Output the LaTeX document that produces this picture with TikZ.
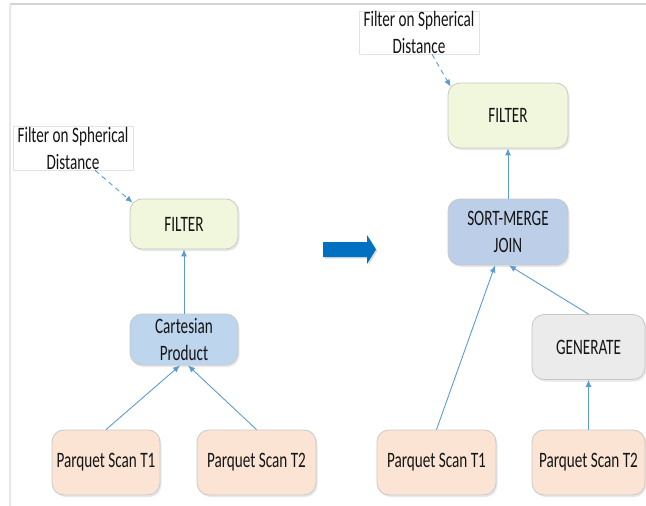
\documentclass[tikz,border=0pt]{standalone}
\usepackage{fontspec}
\setmainfont{Carlito}[FakeStretch=0.69]
\usetikzlibrary{arrows.meta,shadows}
\definecolor{edgeblue}{RGB}{91,155,213}
\definecolor{bigblue}{RGB}{0,112,192}
\definecolor{filtfill}{RGB}{240,247,220}
\definecolor{cpfill}{RGB}{189,213,237}
\definecolor{smjfill}{RGB}{189,207,232}
\definecolor{genfill}{RGB}{235,235,235}
\definecolor{pqfill}{RGB}{251,228,212}
\definecolor{boxline}{RGB}{200,200,200}
\definecolor{lablinec}{RGB}{222,228,238}
\definecolor{txt}{RGB}{20,20,20}
\tikzset{
  opbox/.style={draw=boxline, line width=0.8pt, rounded corners=12pt, align=center,
    font=\fontsize{22}{27}\selectfont, text=txt,
    drop shadow={opacity=0.18, shadow xshift=1.5pt, shadow yshift=-2pt}},
  labbox/.style={draw=lablinec, line width=0.6pt, align=center, fill=white, text=txt,
    font=\fontsize{22}{27}\selectfont, inner sep=0pt},
  conn/.style={draw=edgeblue, line width=0.9pt, -{Latex[length=7pt,width=6pt]}},
  dconn/.style={conn, dash pattern=on 5pt off 4pt}
}
\begin{document}
\begin{tikzpicture}[x=1pt,y=-1pt]
\useasboundingbox (0,0) rectangle (646,506);
% frame lines
\draw[draw={rgb,255:red,212;green,212;blue,212}, line width=1.5pt] (10,4) -- (646,4);
\draw[draw={rgb,255:red,232;green,232;blue,232}, line width=2pt] (10,4) -- (10,506);

% left side
\node[labbox, minimum width=120pt, minimum height=44pt] (llab) at (73,148) {Filter on Spherical\\Distance};
\node[opbox, fill=filtfill, minimum width=108pt, minimum height=50pt] (lfilter) at (184,224) {FILTER};
\node[opbox, fill=cpfill, minimum width=108pt, minimum height=51pt] (cp) at (184,339.5) {Cartesian\\Product};
\node[opbox, fill=pqfill, minimum width=108pt, minimum height=65pt] (lt1) at (106,462.5) {Parquet Scan T1};
\node[opbox, fill=pqfill, minimum width=119pt, minimum height=65pt] (lt2) at (256.5,462.5) {Parquet Scan T2};

\draw[dconn] ([xshift=22pt]llab.south) -- ([xshift=3pt,yshift=-4pt]lfilter.north west);
\draw[conn] (cp.north) -- (lfilter.south);
\draw[conn] (lt1.north) -- ([xshift=-4pt]cp.south);
\draw[conn] (lt2.north) -- ([xshift=4pt]cp.south);

% big arrow
\fill[bigblue, drop shadow={opacity=0.25, shadow xshift=1.5pt, shadow yshift=-1.5pt}]
  (323,242) -- (367,242) -- (367,235) -- (376,249.5) -- (367,264) -- (367,257) -- (323,257) -- cycle;

% right side
\node[labbox, minimum width=120pt, minimum height=43pt] (rlab) at (419,32.5) {Filter on Spherical\\Distance};
\node[opbox, fill=filtfill, minimum width=120pt, minimum height=65pt] (rfilter) at (508,115.5) {FILTER};
\node[opbox, fill=smjfill, minimum width=120pt, minimum height=66pt] (smj) at (508,232) {SORT-MERGE\\JOIN};
\node[opbox, fill=genfill, minimum width=113pt, minimum height=65pt] (gen) at (588.5,347) {GENERATE};
\node[opbox, fill=pqfill, minimum width=119pt, minimum height=65pt] (rt1) at (436.5,462.5) {Parquet Scan T1};
\node[opbox, fill=pqfill, minimum width=113pt, minimum height=65pt] (rt2) at (588.5,462.5) {Parquet Scan T2};

\draw[dconn] ([xshift=13pt]rlab.south) -- ([xshift=3pt,yshift=-4pt]rfilter.north west);
\draw[conn] (smj.north) -- (rfilter.south);
\draw[conn] (rt1.north) -- ([xshift=-13pt]smj.south);
\draw[conn] (gen.north) -- ([xshift=1pt]smj.south);
\draw[conn] (rt2.north) -- (gen.south);
\end{tikzpicture}
\end{document}
